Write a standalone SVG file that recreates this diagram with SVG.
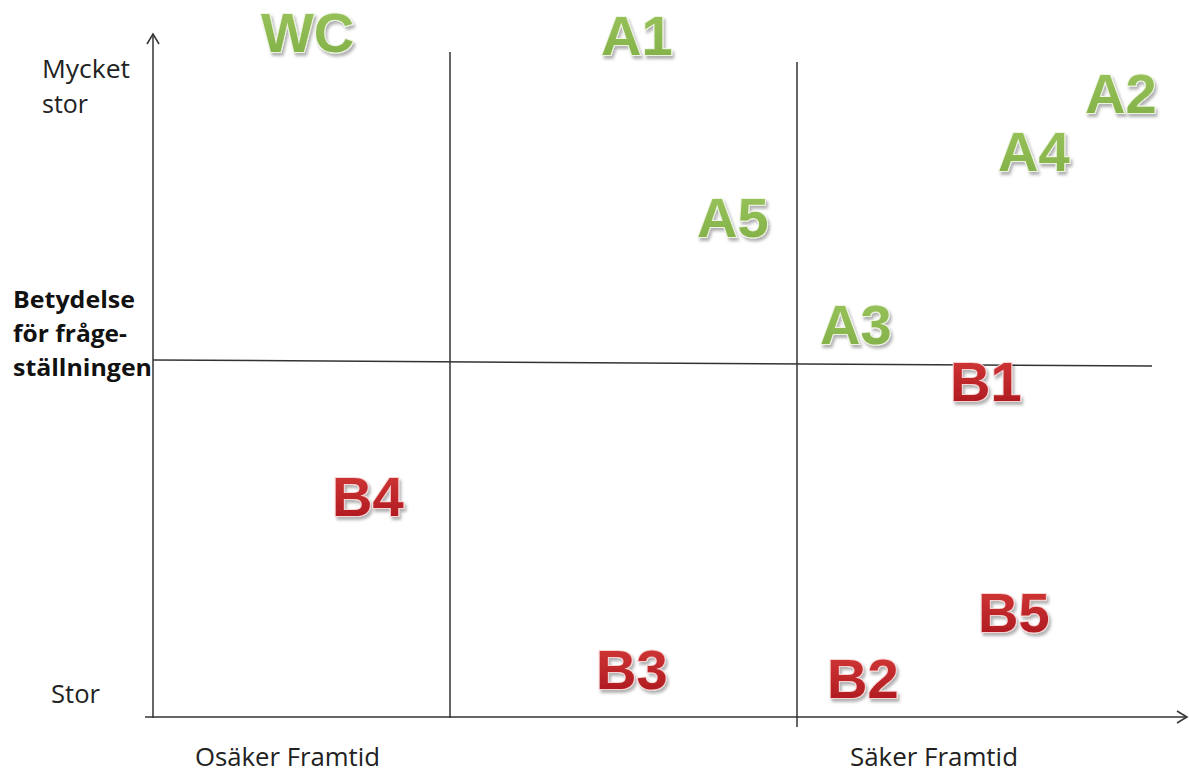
<svg xmlns="http://www.w3.org/2000/svg" width="1189" height="773" viewBox="0 0 1189 773">
<defs>
<style>
.ax{stroke:#333;stroke-width:1.5;fill:none}
.lab{font-family:"Open Sans","Liberation Sans",sans-serif;font-size:25px;fill:#222}
.labb{font-family:"Open Sans","Liberation Sans",sans-serif;font-size:23px;font-weight:bold;fill:#111}
.big{font-family:"Liberation Sans",Arial,sans-serif;font-size:56px;font-weight:bold;stroke-width:2;paint-order:stroke;filter:url(#sh)}
.g{fill:url(#gg);stroke:#eef4e2}
.r{fill:url(#rg);stroke:#f6d2d2}
</style>
<linearGradient id="gg" x1="0" y1="0" x2="0" y2="1">
<stop offset="0" stop-color="#9cc55e"/><stop offset="1" stop-color="#7fae45"/>
</linearGradient>
<linearGradient id="rg" x1="0" y1="0" x2="0" y2="1">
<stop offset="0" stop-color="#d63a3a"/><stop offset="1" stop-color="#a8161c"/>
</linearGradient>
<filter id="sh" x="-20%" y="-20%" width="150%" height="150%">
<feDropShadow dx="2" dy="3" stdDeviation="1.5" flood-color="#000" flood-opacity="0.3"/>
</filter>
<marker id="arr" markerWidth="14" markerHeight="14" refX="12" refY="7" orient="auto" markerUnits="userSpaceOnUse">
<path d="M2,1 L12,7 L2,13" fill="none" stroke="#333" stroke-width="1.5"/>
</marker>
</defs>
<rect width="1189" height="773" fill="#fff"/>
<g id="connectors">
<line class="ax" x1="153" y1="718" x2="153" y2="34" marker-end="url(#arr)"/>
<line class="ax" x1="145" y1="717" x2="1187" y2="717" marker-end="url(#arr)"/>
<line class="ax" x1="450" y1="52" x2="450" y2="718"/>
<line class="ax" x1="797" y1="62" x2="797" y2="727"/>
<line class="ax" x1="153" y1="360" x2="1152" y2="366"/>
</g>
<g id="axis-labels">
<text class="lab" x="42" y="78" textLength="88" lengthAdjust="spacingAndGlyphs">Mycket</text>
<text class="lab" x="42" y="113" textLength="46" lengthAdjust="spacingAndGlyphs">stor</text>
<text class="lab" x="51" y="703" textLength="49" lengthAdjust="spacingAndGlyphs">Stor</text>
<text class="lab" x="195" y="766" textLength="185" lengthAdjust="spacingAndGlyphs">Osäker Framtid</text>
<text class="lab" x="850" y="766" textLength="168" lengthAdjust="spacingAndGlyphs">Säker Framtid</text>
<text class="labb" x="13" y="308" textLength="122" lengthAdjust="spacingAndGlyphs">Betydelse</text>
<text class="labb" x="13" y="342" textLength="114" lengthAdjust="spacingAndGlyphs">för fråge-</text>
<text class="labb" x="13" y="376" textLength="139" lengthAdjust="spacingAndGlyphs">ställningen</text>
</g>
<g id="WC"><text class="big g" x="261" y="52">WC</text></g>
<g id="A1"><text class="big g" x="601" y="55">A1</text></g>
<g id="A2"><text class="big g" x="1085" y="113">A2</text></g>
<g id="A4"><text class="big g" x="998" y="171">A4</text></g>
<g id="A5"><text class="big g" x="697" y="237">A5</text></g>
<g id="A3"><text class="big g" x="820" y="344">A3</text></g>
<g id="B1"><text class="big r" x="950" y="401">B1</text></g>
<g id="B4"><text class="big r" x="332" y="516">B4</text></g>
<g id="B5"><text class="big r" x="978" y="632">B5</text></g>
<g id="B3"><text class="big r" x="596" y="689">B3</text></g>
<g id="B2"><text class="big r" x="827" y="698">B2</text></g>
</svg>
